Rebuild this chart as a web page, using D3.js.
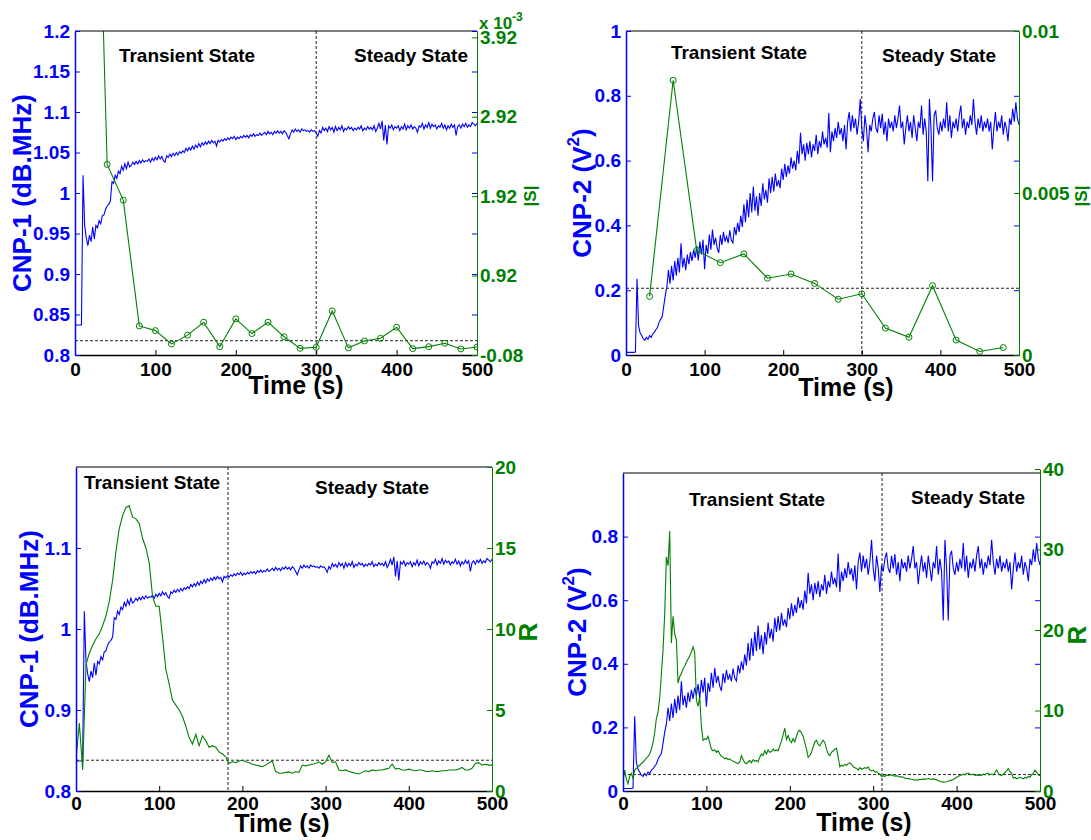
<!DOCTYPE html>
<meta charset="utf-8">
<style>
    html, body {
        margin: 0;
        padding: 0;
        background: #fff;
    }

    svg text {
        font-family: 'Liberation Sans', Arial, Helvetica, sans-serif;
        font-weight: bold;
    }

    .blueLine {
        fill: none;
        stroke: #0000ff;
        stroke-width: 1.1px;
    }

    .greenLine {
        fill: none;
        stroke: #008000;
        stroke-width: 1.1px;
    }

    .dashed {
        stroke: #222;
        stroke-width: 1px;
        stroke-dasharray: 3, 2;
    }
</style>
<html>
<head>
    <title>CNP and stability index</title>
    <script src="https://d3js.org/d3.v7.min.js"></script>
</head>
<body>
<div id="chartArea"></div>

<script>
    // ---- data ----
    // CNP-1 (dB.MHz), one value every 2 s from 0 to 500 s
    var cnp1Step = 2;
    var cnp1 = [
        0.837, 0.837, 0.837, 0.837, 0.837, 1.022, 0.960, 0.945, 0.935, 0.948,
        0.940, 0.958, 0.943, 0.960, 0.957, 0.966, 0.962, 0.972, 0.973, 0.980,
        0.984, 0.986, 0.990, 1.014, 1.012, 1.022, 1.018, 1.027, 1.024, 1.033,
        1.028, 1.036, 1.030, 1.038, 1.032, 1.034, 1.038, 1.035, 1.039, 1.036,
        1.040, 1.037, 1.041, 1.038, 1.040, 1.039, 1.042, 1.038, 1.043, 1.040,
        1.044, 1.041, 1.046, 1.042, 1.045, 1.040, 1.038, 1.046, 1.044, 1.048,
        1.045, 1.049, 1.046, 1.050, 1.047, 1.051, 1.049, 1.052, 1.050, 1.055,
        1.052, 1.056, 1.053, 1.058, 1.054, 1.059, 1.056, 1.061, 1.057, 1.062,
        1.059, 1.063, 1.060, 1.064, 1.061, 1.065, 1.062, 1.064, 1.058, 1.065,
        1.063, 1.066, 1.064, 1.067, 1.065, 1.068, 1.066, 1.069, 1.067, 1.070,
        1.066, 1.069, 1.067, 1.070, 1.068, 1.071, 1.069, 1.071, 1.068, 1.072,
        1.070, 1.073, 1.070, 1.072, 1.071, 1.074, 1.071, 1.073, 1.075, 1.072,
        1.076, 1.073, 1.075, 1.072, 1.076, 1.074, 1.077, 1.074, 1.076, 1.073,
        1.077, 1.075, 1.071, 1.067, 1.073, 1.078, 1.075, 1.079, 1.076, 1.078,
        1.075, 1.079, 1.077, 1.078, 1.076, 1.077, 1.075, 1.078, 1.076, 1.077,
        1.074, 1.070, 1.077, 1.074, 1.081, 1.077, 1.080, 1.076, 1.082, 1.078,
        1.081, 1.075, 1.082, 1.077, 1.081, 1.078, 1.083, 1.076, 1.080, 1.078,
        1.082, 1.079, 1.081, 1.077, 1.080, 1.078, 1.081, 1.079, 1.083, 1.077,
        1.080, 1.078, 1.082, 1.079, 1.081, 1.078, 1.083, 1.076, 1.080, 1.086,
        1.079, 1.089, 1.065, 1.084, 1.060, 1.083, 1.080, 1.084, 1.078, 1.082,
        1.080, 1.083, 1.077, 1.082, 1.079, 1.085, 1.078, 1.083, 1.080, 1.084,
        1.079, 1.082, 1.080, 1.075, 1.083, 1.081, 1.086, 1.079, 1.084, 1.081,
        1.087, 1.080, 1.085, 1.082, 1.084, 1.079, 1.083, 1.081, 1.086, 1.080,
        1.084, 1.078, 1.083, 1.080, 1.085, 1.081, 1.084, 1.071, 1.082, 1.084,
        1.080, 1.085, 1.082, 1.086, 1.081, 1.084, 1.082, 1.087, 1.085, 1.083,
        1.086
    ];

    // CNP-2 (V^2), one value every 2 s from 0 to 500 s
    var cnp2Step = 2;
    var cnp2 = [
        0.008, 0.008, 0.008, 0.008, 0.008, 0.008, 0.009, 0.235, 0.090, 0.068,
        0.060, 0.050, 0.046, 0.055, 0.048, 0.060, 0.054, 0.065, 0.070, 0.078,
        0.085, 0.100, 0.110, 0.118, 0.150, 0.185, 0.210, 0.262, 0.220, 0.275,
        0.230, 0.290, 0.245, 0.300, 0.255, 0.345, 0.270, 0.300, 0.262, 0.310,
        0.280, 0.318, 0.290, 0.325, 0.300, 0.336, 0.292, 0.350, 0.310, 0.356,
        0.265, 0.340, 0.312, 0.372, 0.325, 0.387, 0.340, 0.362, 0.330, 0.315,
        0.370, 0.340, 0.380, 0.350, 0.366, 0.345, 0.385, 0.355, 0.346, 0.395,
        0.370, 0.408, 0.380, 0.430, 0.395, 0.465, 0.410, 0.480, 0.425, 0.500,
        0.440, 0.520, 0.445, 0.490, 0.430, 0.500, 0.460, 0.530, 0.480, 0.510,
        0.470, 0.545, 0.500, 0.550, 0.505, 0.560, 0.520, 0.540, 0.515, 0.575,
        0.540, 0.590, 0.550, 0.585, 0.560, 0.610, 0.575, 0.600, 0.570, 0.630,
        0.590, 0.686, 0.620, 0.650, 0.600, 0.655, 0.620, 0.660, 0.610, 0.650,
        0.630, 0.680, 0.620, 0.660, 0.640, 0.690, 0.650, 0.670, 0.640, 0.747,
        0.626, 0.690, 0.660, 0.700, 0.670, 0.720, 0.680, 0.700, 0.660, 0.710,
        0.634, 0.720, 0.750, 0.690, 0.740, 0.700, 0.730, 0.680, 0.720, 0.790,
        0.700, 0.660, 0.740, 0.700, 0.626, 0.710, 0.690, 0.730, 0.750, 0.700,
        0.686, 0.740, 0.700, 0.745, 0.680, 0.720, 0.660, 0.730, 0.700, 0.720,
        0.690, 0.740, 0.700, 0.730, 0.770, 0.700, 0.720, 0.650, 0.700, 0.740,
        0.690, 0.720, 0.670, 0.740, 0.700, 0.660, 0.720, 0.700, 0.770, 0.680,
        0.730, 0.690, 0.536, 0.790, 0.700, 0.536, 0.740, 0.755, 0.700, 0.680,
        0.720, 0.690, 0.730, 0.700, 0.780, 0.690, 0.740, 0.670, 0.720, 0.700,
        0.730, 0.690, 0.740, 0.770, 0.700, 0.730, 0.680, 0.720, 0.700, 0.740,
        0.710, 0.790, 0.720, 0.680, 0.730, 0.700, 0.740, 0.690, 0.720, 0.700,
        0.730, 0.690, 0.720, 0.634, 0.700, 0.750, 0.690, 0.720, 0.700, 0.740,
        0.680, 0.720, 0.700, 0.660, 0.730, 0.710, 0.760, 0.720, 0.780, 0.730,
        0.710
    ];

    // |S| for CNP-1 (x 10^-3), every 20 s
    var s1Time = [20, 40, 60, 80, 100, 120, 140, 160, 180, 200, 220, 240, 260,
                  280, 300, 320, 340, 360, 380, 400, 420, 440, 460, 480, 500];
    var s1Val = [9.5, 2.32, 1.87, 0.286, 0.227, 0.059, 0.17, 0.333, 0.025, 0.375, 0.19, 0.333, 0.15,
                 0.004, 0.017, 0.475, 0.01, 0.097, 0.13, 0.27, 0.0, 0.025, 0.068, -0.004, 0.02];

    // |S| for CNP-2, every 30 s
    var s2Time = [30, 60, 90, 120, 150, 180, 210, 240, 270, 300, 330, 360, 390, 420, 450, 480];
    var s2Val = [0.00181, 0.00848, 0.00323, 0.00285, 0.00312, 0.00237, 0.0025, 0.00221,
                 0.00172, 0.00189, 0.00083, 0.00055, 0.00214, 0.00046, 0.00011, 0.00023];

    // R for CNP-1, every 4 s
    var r1Step = 4;
    var r1 = [
        1.9, 4.2, 1.3, 7.8, 8.5, 9.0, 9.4, 9.7, 10.2, 10.8,
        11.7, 13.0, 14.8, 16.2, 17.0, 17.5, 17.6, 16.9, 16.8, 16.5,
        15.6, 15.0, 14.1, 12.0, 11.4, 11.4, 9.5, 7.5, 6.6, 5.6,
        5.3, 5.0, 4.6, 4.0, 3.3, 2.9, 3.5, 2.8, 3.4, 3.1,
        2.7, 2.8, 2.7, 2.4, 2.3, 2.1, 1.7, 1.8, 1.75, 1.85,
        1.9, 1.8, 1.75, 1.65, 1.6, 1.55, 1.5, 1.6, 1.75, 1.85,
        1.2, 1.1, 1.1, 1.15, 1.18, 1.1, 1.2, 1.15, 1.6, 1.55,
        1.6, 1.65, 1.7, 1.8, 1.65, 1.8, 2.2, 1.75, 1.8, 1.3,
        1.25, 1.3, 1.2, 1.15, 1.1, 1.05, 1.15, 1.25, 1.2, 1.3,
        1.25, 1.3, 1.3, 1.35, 1.4, 1.65, 1.35, 1.4, 1.3, 1.3,
        1.35, 1.3, 1.25, 1.3, 1.3, 1.2, 1.2, 1.25, 1.2, 1.2,
        1.25, 1.25, 1.3, 1.3, 1.3, 1.35, 1.45, 1.3, 1.3, 1.4,
        1.7, 1.75, 1.6, 1.65, 1.6, 1.6
    ];

    // R for CNP-2, every 2 s
    var r2Step = 2;
    var r2 = [
        1.3, 2.6, 1.5, 0.9, 1.8, 2.2, 1.6, 2.6, 2.8, 3.0,
        3.2, 3.4, 3.6, 3.8, 4.1, 4.3, 4.6, 5.2, 6.0, 7.2,
        9.0, 9.8, 11.5, 14.5, 17.5, 22.0, 29.1, 28.0, 32.3, 18.4,
        21.7, 19.5, 18.8, 13.4, 14.2, 14.6, 15.2, 15.5, 16.0, 16.4,
        16.8, 17.3, 17.9, 17.2, 11.3, 10.5, 11.7, 8.0, 6.3, 6.5,
        6.4, 6.8, 6.0, 5.2, 5.0, 5.1, 4.8, 5.0, 4.6, 4.3,
        4.2, 4.0, 4.1, 3.9, 4.0, 3.8, 3.7, 3.6, 3.5, 3.4,
        3.6, 4.4, 3.9, 3.5, 3.4, 3.6, 3.8, 3.5, 3.9, 3.7,
        3.8, 3.6, 4.2, 4.6, 4.4, 5.0, 4.6, 5.1, 4.8, 4.9,
        5.2, 5.0, 5.1, 5.0, 5.6, 6.2, 7.0, 7.8, 6.4, 6.9,
        6.3, 6.0, 6.5, 6.1, 6.8, 7.4, 7.55, 7.2, 6.8, 6.0,
        5.2, 4.2, 4.4, 4.8, 5.5, 6.1, 6.3, 5.8, 5.6, 6.0,
        6.3, 6.0, 5.2, 4.6, 4.4, 4.8, 5.0, 5.2, 5.3, 4.2,
        3.0, 3.2, 3.1, 3.3, 3.2, 3.4, 3.5, 3.3, 3.0, 2.9,
        2.8, 2.6, 2.9, 2.7, 2.8, 2.9, 2.8, 3.0, 2.6, 2.5,
        2.6, 2.37, 2.4, 2.2, 2.1, 1.8, 1.9, 1.8, 2.0, 1.9,
        2.0, 2.0, 1.9, 1.85, 1.9, 1.8, 1.75, 1.75, 1.7, 1.6,
        1.55, 1.54, 1.5, 1.45, 1.4, 1.33, 1.4, 1.35, 1.45, 1.4,
        1.5, 1.45, 1.5, 1.55, 1.5, 1.45, 1.5, 1.45, 1.4, 1.3,
        1.2, 1.15, 1.1, 1.12, 1.15, 1.2, 1.3, 1.35, 1.45, 1.55,
        1.7, 1.8, 1.95, 1.95, 2.1, 2.0, 2.2, 2.2, 2.1, 2.0,
        2.1, 1.95, 2.0, 1.9, 2.0, 1.95, 2.1, 2.0, 2.2, 2.2,
        2.0, 2.1, 2.0, 2.3, 2.6, 2.2, 2.0, 1.95, 2.1, 2.3,
        2.5, 2.8, 2.4, 2.2, 1.6, 1.7, 1.5, 1.6, 1.7, 1.6,
        1.5, 1.7, 1.6, 1.8, 1.7, 2.0, 2.2, 2.6, 2.3, 2.0,
        1.9
    ];

    var timeTicks = [0, 100, 200, 300, 400, 500];

    // ---- layout ----
    var blue = "#0000ff", green = "#008000";
    var fmt = function (d) { return String(+d.toFixed(3)); };

    var panels = [
        {
            left: 75, right: 477, top: 31, bottom: 355, rTop: 31,
            yL: [0.8, 1.2], yLTicks: [0.8, 0.85, 0.9, 0.95, 1, 1.05, 1.1, 1.15, 1.2],
            yR: [-0.08, 4.0], yRTicks: [-0.08, 0.92, 1.92, 2.92, 3.92],
            blue: cnp1, blueStep: cnp1Step,
            gT: s1Time, gV: s1Val, markers: true,
            split: 300, thr: 0.1,
            yLabel: ["CNP-1 (dB.MHz)"], yLabelX: 22, rLabel: "|S|", rLabelX: 530, rLabelSize: 17,
            trans: [187, 62], steady: [411, 62], labPad: 8, timeX: 296, timeY: 394, exp: true
        },
        {
            left: 626, right: 1019, top: 31, bottom: 355, rTop: 31,
            yL: [0, 1], yLTicks: [0, 0.2, 0.4, 0.6, 0.8, 1],
            yR: [0, 0.01], yRTicks: [0, 0.005, 0.01],
            blue: cnp2, blueStep: cnp2Step,
            gT: s2Time, gV: s2Val, markers: true,
            split: 300, thr: 0.00206,
            yLabel: ["CNP-2 (V", "2", ")"], yLabelX: 582, rLabel: "|S|", rLabelX: 1081, rLabelSize: 17,
            trans: [739, 59], steady: [939, 62], labPad: 8, timeX: 846, timeY: 396
        },
        {
            left: 76, right: 492, top: 467, bottom: 791, rTop: 467,
            yL: [0.8, 1.2], yLTicks: [0.8, 0.9, 1, 1.1],
            yR: [0, 20], yRTicks: [0, 5, 10, 15, 20],
            blue: cnp1, blueStep: cnp1Step,
            gStep: r1Step, gV: r1, markers: false,
            split: 182.7, thr: 1.9,
            yLabel: ["CNP-1 (dB.MHz)"], yLabelX: 29, rLabel: "R", rLabelX: 528, rLabelSize: 26,
            trans: [152, 489], steady: [372, 494], labPad: 6, timeX: 282, timeY: 832
        },
        {
            left: 623, right: 1040, top: 473, bottom: 791, rTop: 469,
            yL: [0, 1], yLTicks: [0, 0.2, 0.4, 0.6, 0.8],
            yR: [0, 40], yRTicks: [0, 10, 20, 30, 40],
            blue: cnp2, blueStep: cnp2Step,
            gStep: r2Step, gV: r2, markers: false,
            split: 310.6, thr: 2.04,
            yLabel: ["CNP-2 (V", "2", ")"], yLabelX: 577, rLabel: "R", rLabelX: 1077, rLabelSize: 26,
            trans: [757, 506], steady: [968, 504], labPad: 6, timeX: 864, timeY: 831
        }
    ];

    var svg = d3.select("#chartArea").append("svg")
        .attr("width", 1091).attr("height", 840)
        .style("display", "block");

    function styleAxis(g, color) {
        g.attr("font-family", null).attr("font-size", null);
        g.select(".domain").attr("stroke", color);
        g.selectAll(".tick line").attr("stroke", color);
        g.selectAll("text").attr("fill", color).attr("font-size", 19);
    }

    panels.forEach(function (p, k) {
        var g = svg.append("g");
        var x = d3.scaleLinear().domain([0, 500]).range([p.left, p.right]);
        var yl = d3.scaleLinear().domain(p.yL).range([p.bottom, p.top]);
        var yr = d3.scaleLinear().domain(p.yR).range([p.bottom, p.rTop]);

        g.append("clipPath").attr("id", "clip" + k)
            .append("rect")
            .attr("x", p.left).attr("y", Math.min(p.top, p.rTop))
            .attr("width", p.right - p.left)
            .attr("height", p.bottom - Math.min(p.top, p.rTop));

        // blue series
        var blueLine = d3.line()
            .x(function (d, i) { return x(i * p.blueStep); })
            .y(function (d) { return yl(d); });
        g.append("path").attr("class", "blueLine")
            .attr("clip-path", "url(#clip" + k + ")")
            .attr("d", blueLine(p.blue));

        // threshold and state divider
        g.append("line").attr("class", "dashed")
            .attr("x1", x(0)).attr("x2", x(500))
            .attr("y1", yr(p.thr)).attr("y2", yr(p.thr));
        g.append("line").attr("class", "dashed")
            .attr("x1", x(p.split)).attr("x2", x(p.split))
            .attr("y1", p.top).attr("y2", p.bottom);

        // green series
        var gx = function (d, i) { return p.gT ? x(p.gT[i]) : x(i * p.gStep); };
        var greenLine = d3.line().x(gx).y(function (d) { return yr(d); });
        g.append("path").attr("class", "greenLine")
            .attr("clip-path", "url(#clip" + k + ")")
            .attr("d", greenLine(p.gV));
        if (p.markers) {
            g.append("g").attr("clip-path", "url(#clip" + k + ")")
                .selectAll("circle").data(p.gV).enter().append("circle")
                .attr("cx", gx).attr("cy", function (d) { return yr(d); })
                .attr("r", 3).attr("fill", "none")
                .attr("stroke", green).attr("stroke-width", 1);
        }

        // box top
        g.append("line").attr("x1", p.left).attr("x2", p.right)
            .attr("y1", p.top).attr("y2", p.top)
            .attr("stroke", "#000").attr("stroke-width", 1);

        // bottom axis
        g.append("g").attr("transform", "translate(0," + p.bottom + ")")
            .call(d3.axisBottom(x).tickValues(timeTicks).tickSize(-5).tickSizeOuter(0).tickPadding(p.labPad))
            .call(styleAxis, "#000")
            .select(".domain").attr("stroke-width", 1.5);

        // left axis
        g.append("g").attr("transform", "translate(" + p.left + ",0)")
            .call(d3.axisLeft(yl).tickValues(p.yLTicks).tickFormat(fmt).tickSize(-5).tickSizeOuter(0).tickPadding(5))
            .call(styleAxis, blue)
            .select(".domain").attr("stroke-width", 1.5);

        // mirrored left ticks on the right edge
        g.append("g").attr("transform", "translate(" + p.right + ",0)")
            .call(d3.axisRight(yl).tickValues(p.yLTicks).tickFormat("").tickSize(-5).tickSizeOuter(0))
            .call(styleAxis, blue);

        // right axis
        g.append("g").attr("transform", "translate(" + p.right + ",0)")
            .call(d3.axisRight(yr).tickValues(p.yRTicks).tickFormat(fmt).tickSize(-5).tickSizeOuter(0).tickPadding(3))
            .call(styleAxis, green);

        // state labels
        g.append("text").attr("x", p.trans[0]).attr("y", p.trans[1])
            .attr("text-anchor", "middle").attr("font-size", 19).attr("fill", "#000")
            .text("Transient State");
        g.append("text").attr("x", p.steady[0]).attr("y", p.steady[1])
            .attr("text-anchor", "middle").attr("font-size", 19).attr("fill", "#000")
            .text("Steady State");

        // x label
        g.append("text").attr("x", p.timeX).attr("y", p.timeY)
            .attr("text-anchor", "middle").attr("font-size", 25).attr("fill", "#000")
            .text("Time (s)");

        // left y label
        var cy = (p.top + p.bottom) / 2;
        var yt = g.append("text")
            .attr("transform", "translate(" + p.yLabelX + "," + cy + ") rotate(-90)")
            .attr("text-anchor", "middle").attr("dominant-baseline", "central")
            .attr("font-size", 26).attr("fill", blue);
        yt.append("tspan").text(p.yLabel[0]);
        if (p.yLabel.length > 1) {
            yt.append("tspan").attr("font-size", 17).attr("dy", -9).text(p.yLabel[1]);
            yt.append("tspan").attr("dy", 9).text(p.yLabel[2]);
        }

        // right y label
        g.append("text")
            .attr("transform", "translate(" + p.rLabelX + "," + (cy + 3) + ") rotate(-90)")
            .attr("text-anchor", "middle").attr("dominant-baseline", "central")
            .attr("font-size", p.rLabelSize).attr("fill", green)
            .text(p.rLabel);

        if (p.exp) {
            var e = g.append("text").attr("x", p.right + 2).attr("y", 29)
                .attr("font-size", 17).attr("fill", green);
            e.append("tspan").text("x 10");
            e.append("tspan").attr("font-size", 12).attr("dy", -8).text("-3");
        }
    });
</script>
</body>
</html>
